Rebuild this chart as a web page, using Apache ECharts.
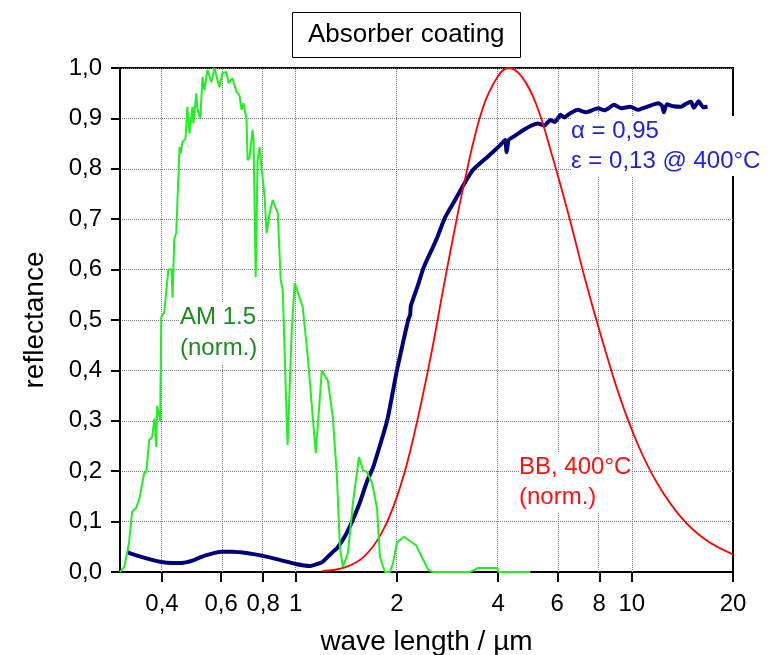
<!DOCTYPE html>
<html>
<head>
<meta charset="utf-8">
<script src="https://cdn.jsdelivr.net/npm/echarts@6/dist/echarts.min.js"></script>
<style>
  html, body { margin: 0; padding: 0; background: #fff; }
  #chart { width: 771px; height: 655px; }
</style>
</head>
<body>
<div id="chart"></div>
<script>
// wavelength in µm, values normalized / reflectance
const xTicks = [0.4, 0.6, 0.8, 1, 2, 4, 6, 8, 10, 20];
const xGridLines = [0.4, 0.6, 0.8, 1, 2, 4, 6, 8, 10];

const reflWl = [0.315, 0.319, 0.36, 0.398, 0.43, 0.457, 0.49, 0.524, 0.56, 0.601, 0.649, 0.72, 0.797, 0.896, 1.0, 1.1, 1.2, 1.29, 1.33, 1.42, 1.55, 1.63, 1.7, 1.87, 2.0, 2.16, 2.19, 2.2, 2.3, 2.39, 2.46, 2.55, 2.63, 2.78, 2.98, 3.13, 3.37, 3.71, 4.06, 4.2, 4.24, 4.3, 4.5, 4.76, 5.0, 5.24, 5.5, 5.72, 5.9, 6.14, 6.3, 6.56, 6.9, 7.3, 7.93, 8.3, 8.85, 9.3, 9.9, 10.4, 10.87, 11.4, 12.0, 12.3, 12.45, 12.7, 13.3, 14.0, 14.5, 15.0, 15.3, 15.8, 16.3, 16.8];
const reflVal = [0.040, 0.038, 0.027, 0.020, 0.018, 0.018, 0.022, 0.030, 0.036, 0.040, 0.040, 0.037, 0.032, 0.024, 0.016, 0.012, 0.020, 0.040, 0.048, 0.078, 0.137, 0.180, 0.208, 0.300, 0.400, 0.500, 0.510, 0.528, 0.565, 0.600, 0.620, 0.642, 0.662, 0.703, 0.738, 0.764, 0.798, 0.823, 0.847, 0.857, 0.833, 0.857, 0.866, 0.877, 0.885, 0.890, 0.886, 0.897, 0.893, 0.907, 0.902, 0.910, 0.917, 0.912, 0.920, 0.916, 0.927, 0.920, 0.923, 0.917, 0.921, 0.926, 0.930, 0.925, 0.912, 0.928, 0.924, 0.923, 0.929, 0.933, 0.921, 0.934, 0.922, 0.923];

const bbWl = [1.2, 1.4, 1.6, 1.8, 2.0, 2.2, 2.5, 2.8, 3.2, 3.6, 4.0, 4.3, 4.7, 5.2, 5.8, 6.5, 7.3, 8.2, 9.2, 10.5, 12, 14, 16.5, 20];
const bbVal = [0.002, 0.009, 0.031, 0.077, 0.149, 0.245, 0.415, 0.591, 0.784, 0.92, 0.984, 1.0, 0.983, 0.927, 0.825, 0.706, 0.575, 0.456, 0.348, 0.248, 0.172, 0.109, 0.065, 0.035];

const amWl = [0.300, 0.309, 0.319, 0.326, 0.335, 0.343, 0.354, 0.359, 0.3665, 0.374, 0.380, 0.3845, 0.387, 0.395, 0.398, 0.406, 0.418, 0.427, 0.430, 0.435, 0.441, 0.451, 0.454, 0.460, 0.470, 0.476, 0.483, 0.493, 0.496, 0.506, 0.510, 0.520, 0.528, 0.535, 0.546, 0.561, 0.573, 0.585, 0.593, 0.605, 0.622, 0.631, 0.648, 0.667, 0.680, 0.690, 0.699, 0.714, 0.719, 0.729, 0.744, 0.749, 0.760, 0.770, 0.781, 0.792, 0.808, 0.819, 0.836, 0.854, 0.872, 0.884, 0.902, 0.915, 0.940, 0.946, 0.973, 0.993, 1.049, 1.086, 1.147, 1.196, 1.246, 1.289, 1.326, 1.353, 1.381, 1.400, 1.430, 1.480, 1.542, 1.585, 1.629, 1.686, 1.745, 1.781, 1.842, 1.907, 1.948, 2.000, 2.10, 2.28, 2.48, 2.56, 3.30, 3.49, 3.98, 4.01, 4.99];
const amVal = [0.000, 0.010, 0.057, 0.120, 0.127, 0.147, 0.196, 0.198, 0.262, 0.268, 0.305, 0.248, 0.330, 0.300, 0.506, 0.514, 0.600, 0.600, 0.544, 0.660, 0.673, 0.843, 0.830, 0.853, 0.860, 0.923, 0.870, 0.923, 0.890, 0.950, 0.918, 0.900, 0.982, 0.956, 0.996, 0.972, 1.000, 0.976, 0.962, 0.990, 0.992, 0.970, 0.980, 0.952, 0.946, 0.917, 0.930, 0.897, 0.817, 0.823, 0.877, 0.860, 0.585, 0.817, 0.843, 0.800, 0.744, 0.672, 0.712, 0.738, 0.722, 0.713, 0.580, 0.560, 0.300, 0.252, 0.480, 0.573, 0.526, 0.427, 0.236, 0.400, 0.380, 0.307, 0.190, 0.050, 0.010, 0.008, 0.038, 0.137, 0.228, 0.202, 0.198, 0.177, 0.127, 0.030, 0.000, 0.000, 0.018, 0.058, 0.070, 0.053, 0.004, 0.000, 0.000, 0.008, 0.008, 0.000, 0.000];

const FONT = '"Liberation Sans", Arial, sans-serif';
const lg = (v) => Math.log10(v);
const pairs = (xs, ys) => xs.map((x, i) => [lg(x), ys[i]]);
const comma = (v) => String(v).replace('.', ',');

const chart = echarts.init(document.getElementById('chart'));

chart.setOption({
  animation: false,
  backgroundColor: '#fff',
  title: {
    text: 'Absorber coating',
    left: 292,
    top: 12,
    borderColor: '#000',
    borderWidth: 1,
    padding: [10, 16, 10, 16],
    textStyle: { fontSize: 26, fontWeight: 'normal', color: '#000', fontFamily: FONT }
  },
  grid: {
    left: 120, right: 38, top: 68, bottom: 83,
    outerBoundsMode: 'none',
    containLabel: false,
    show: true, borderColor: '#000', borderWidth: 2
  },
  xAxis: {
    type: 'value',
    min: lg(0.3),
    max: lg(20),
    name: 'wave length / µm',
    nameLocation: 'middle',
    nameGap: 56,
    nameTextStyle: { fontSize: 28, color: '#000', fontFamily: FONT },
    axisLine: { lineStyle: { color: '#000', width: 2 } },
    axisTick: {
      customValues: xTicks.map(lg),
      length: 10,
      lineStyle: { color: '#000', width: 2 }
    },
    axisLabel: {
      customValues: xTicks.map(lg),
      formatter: (v) => comma(Math.round(Math.pow(10, v) * 10) / 10),
      fontSize: 24,
      color: '#000',
      fontFamily: FONT,
      margin: 20
    },
    splitLine: { show: false }
  },
  yAxis: {
    type: 'value',
    min: 0,
    max: 1,
    interval: 0.1,
    name: 'reflectance',
    nameLocation: 'middle',
    nameGap: 71,
    nameTextStyle: { fontSize: 28, color: '#000', fontFamily: FONT },
    axisLine: { show: true, onZero: false, lineStyle: { color: '#000', width: 2 } },
    axisTick: { show: true, length: 9, lineStyle: { color: '#000', width: 2 } },
    axisLabel: {
      formatter: (v) => comma(v.toFixed(1)),
      fontSize: 24,
      color: '#000',
      fontFamily: FONT,
      margin: 18
    },
    splitLine: { show: true, lineStyle: { color: '#777', type: 'dotted', width: 1 } }
  },
  series: [
    {
      name: 'reflectance',
      type: 'line',
      data: pairs(reflWl, reflVal),
      showSymbol: false,
      smooth: 0.15,
      lineStyle: { color: '#00007f', width: 4 },
      z: 3,
      markLine: {
        silent: true,
        symbol: 'none',
        z: 1,
        label: { show: false },
        lineStyle: { color: '#777', type: 'dotted', width: 1 },
        data: xGridLines.map((v) => ({ xAxis: lg(v) }))
      }
    },
    {
      name: 'BB',
      type: 'line',
      data: pairs(bbWl, bbVal),
      showSymbol: false,
      smooth: 0.4,
      lineStyle: { color: '#ff0000', width: 1.8 },
      z: 4
    },
    {
      name: 'AM 1.5',
      type: 'line',
      data: pairs(amWl, amVal),
      showSymbol: false,
      lineStyle: { color: '#22ee22', width: 2 },
      z: 5
    }
  ],
  graphic: [
    {
      type: 'text', left: 180, top: 302, z: 10,
      style: {
        text: 'AM 1.5\n(norm.)', fill: '#1a8c1a', fontSize: 24, fontFamily: FONT,
        lineHeight: 31, backgroundColor: '#fff'
      }
    },
    {
      type: 'text', left: 571, top: 116, z: 10,
      style: {
        text: 'α = 0,95\nε = 0,13 @ 400°C', fill: '#1f1fe0', fontSize: 24, fontFamily: FONT,
        lineHeight: 30, backgroundColor: '#fff'
      }
    },
    {
      type: 'text', left: 519, top: 452, z: 10,
      style: {
        text: 'BB, 400°C\n(norm.)', fill: '#ff1010', fontSize: 24, fontFamily: FONT,
        lineHeight: 30, backgroundColor: '#fff'
      }
    }
  ]
});
</script>
</body>
</html>
